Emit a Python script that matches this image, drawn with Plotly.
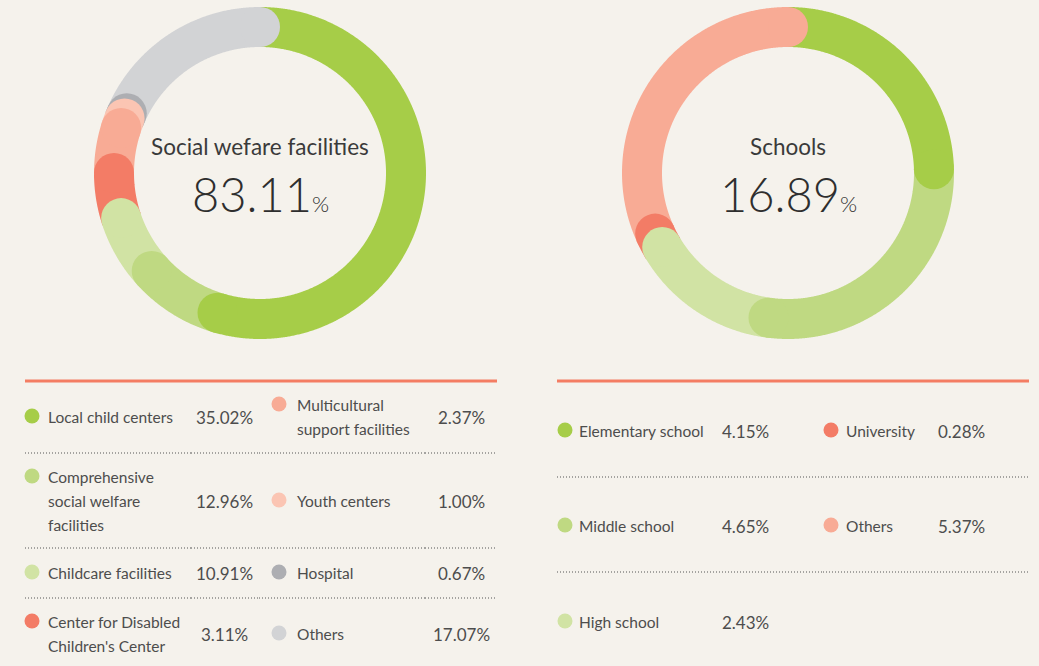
import numpy as np
import plotly.graph_objects as go

# ---------------- data ----------------
welfare_labels = ["Local child centers", "Comprehensive\nsocial welfare\nfacilities",
                  "Childcare facilities", "Center for Disabled\nChildren's Center",
                  "Multicultural\nsupport facilities", "Youth centers", "Hospital", "Others"]
welfare_values = [35.02, 12.96, 10.91, 3.11, 2.37, 1.00, 0.67, 17.07]
# share of the ring each segment occupies (%)
welfare_ring = [54.7, 8.6, 6.7, 5.0, 5.0, 1.1, 0.6, 18.3]
welfare_colors = ["#a6cd48", "#bfd982", "#d1e3a4", "#f37c66", "#f8ab95", "#fbc5b3", "#adaeb2", "#d2d3d5"]

school_labels = ["Elementary school", "Middle school", "High school", "University", "Others"]
school_values = [4.15, 4.65, 2.43, 0.28, 5.37]
school_ring = school_values
school_colors = ["#a6cd48", "#bfd982", "#d1e3a4", "#f37c66", "#f8ab95"]

group_titles = ["Social wefare facilities", "Schools"]
group_totals = ["83.11", "16.89"]

# ---------------- layout constants ----------------
W, H = 1039, 666
BG = "#f5f2ec"
TXT = "#4d4d4d"
FONT = "Lato"
R_MID, RING_W = 146, 40
centers = [(260, 173), (788, 173)]

fig = go.Figure()


def ring(cx, cy, shares, colors):
    shares = np.asarray(shares, dtype=float)
    ends = np.cumsum(shares) / shares.sum() * 360.0
    starts = np.concatenate([[0.0], ends[:-1]])
    # arcs (butt ends)
    for s, e, c in zip(starts, ends, colors):
        th = np.radians(np.linspace(s - 0.5, e, max(int((e - s) * 3) + 2, 6)))
        fig.add_trace(go.Scatter(x=cx + R_MID * np.sin(th), y=cy - R_MID * np.cos(th),
                                 mode="lines", line=dict(color=c, width=RING_W, simplify=False),
                                 hoverinfo="skip", showlegend=False))
    # round end caps, last segment first so earlier caps sit on top
    for e, c in list(zip(ends, colors))[::-1]:
        th = np.radians(e)
        fig.add_trace(go.Scatter(x=[cx + R_MID * np.sin(th)], y=[cy - R_MID * np.cos(th)],
                                 mode="markers",
                                 marker=dict(color=c, size=RING_W, line=dict(width=0)),
                                 hoverinfo="skip", showlegend=False))


ring(*centers[0], welfare_ring, welfare_colors)
ring(*centers[1], school_ring, school_colors)

ann = []
for (cx, cy), title, total in zip(centers, group_titles, group_totals):
    ann.append(dict(x=cx, y=cy - 27, text=title, showarrow=False, xanchor="center", yanchor="middle",
                    font=dict(family=FONT, size=22.5, color="#3a3a3a")))
    ann.append(dict(x=cx, y=cy + 21, showarrow=False, xanchor="center", yanchor="middle",
                    text=total + "<span style='font-size:22px'>%</span>",
                    font=dict(family=FONT, size=47, color="#2e2e2e", weight=300)))

shapes = []


def hline(x0, x1, y, color, width, dash=None):
    shapes.append(dict(type="line", xref="x", yref="y", x0=x0, x1=x1, y0=y, y1=y,
                       line=dict(color=color, width=width, dash=dash)))


# ---------- left table ----------
ORANGE = "#f47d63"
hline(25, 497, 381, ORANGE, 3)
left_cols = [25, 191, 259, 425, 497]
for y in [453, 548, 598]:
    for a, b in zip(left_cols[:-1], left_cols[1:]):
        hline(a, b, y, "#555555", 1, "1px,2px")

LINE_GAP = 24
LBL, VAL = 15.5, 17
left_row_y = [417, 501, 573, 634]
left_slots = [(0, 0), (0, 1), (0, 2), (0, 3), (1, 0), (1, 1), (1, 2), (1, 3)]
col_marker_x = [32, 279]
col_text_x = [46, 295]
col_value_x = [224, 461]

mx, my, mc = [], [], []
for lab, val, col, (ci, ri) in zip(welfare_labels, welfare_values, welfare_colors, left_slots):
    lines = lab.split("\n")
    yc = left_row_y[ri]
    y0 = yc - (len(lines) - 1) * LINE_GAP / 2
    for k, ln in enumerate(lines):
        ann.append(dict(x=col_text_x[ci], y=y0 + k * LINE_GAP, text=ln, showarrow=False,
                        xanchor="left", yanchor="middle",
                        font=dict(family=FONT, size=LBL, color=TXT)))
    ann.append(dict(x=col_value_x[ci], y=yc, text=f"{val:.2f}%", showarrow=False,
                    xanchor="center", yanchor="middle",
                    font=dict(family=FONT, size=VAL, color=TXT)))
    mx.append(col_marker_x[ci]); my.append(y0 - 1); mc.append(col)

# ---------- right table ----------
hline(557, 1029, 381, ORANGE, 3)
right_cols = [557, 823, 1029]
for y in [477, 572]:
    for a, b in zip(right_cols[:-1], right_cols[1:]):
        hline(a, b, y, "#555555", 1, "1px,2px")

right_row_y = [431, 526, 622]
right_slots = [(0, 0), (0, 1), (0, 2), (1, 0), (1, 1)]
rcol_marker_x = [565, 831]
rcol_text_x = [577, 844]
rcol_value_x = [720, 936]
for lab, val, col, (ci, ri) in zip(school_labels, school_values, school_colors, right_slots):
    yc = right_row_y[ri]
    ann.append(dict(x=rcol_text_x[ci], y=yc, text=lab, showarrow=False, xanchor="left", yanchor="middle",
                    font=dict(family=FONT, size=LBL, color=TXT)))
    ann.append(dict(x=rcol_value_x[ci], y=yc, text=f"{val:.2f}%", showarrow=False,
                    xanchor="left", yanchor="middle",
                    font=dict(family=FONT, size=VAL, color=TXT)))
    mx.append(rcol_marker_x[ci]); my.append(yc - 1); mc.append(col)

fig.add_trace(go.Scatter(x=mx, y=my, mode="markers",
                         marker=dict(color=mc, size=15, line=dict(width=0)),
                         hoverinfo="skip", showlegend=False))

fig.update_layout(
    width=W, height=H, margin=dict(l=0, r=0, t=0, b=0),
    paper_bgcolor=BG, plot_bgcolor=BG,
    xaxis=dict(range=[0, W], visible=False, fixedrange=True),
    yaxis=dict(range=[H, 0], visible=False, fixedrange=True),
    annotations=ann, shapes=shapes, showlegend=False,
)
fig.write_html("out.html", config={"displayModeBar": False},
               post_script="document.body.style.margin='0';document.body.style.overflow='hidden';"
                           "document.body.style.background='" + BG + "';")
